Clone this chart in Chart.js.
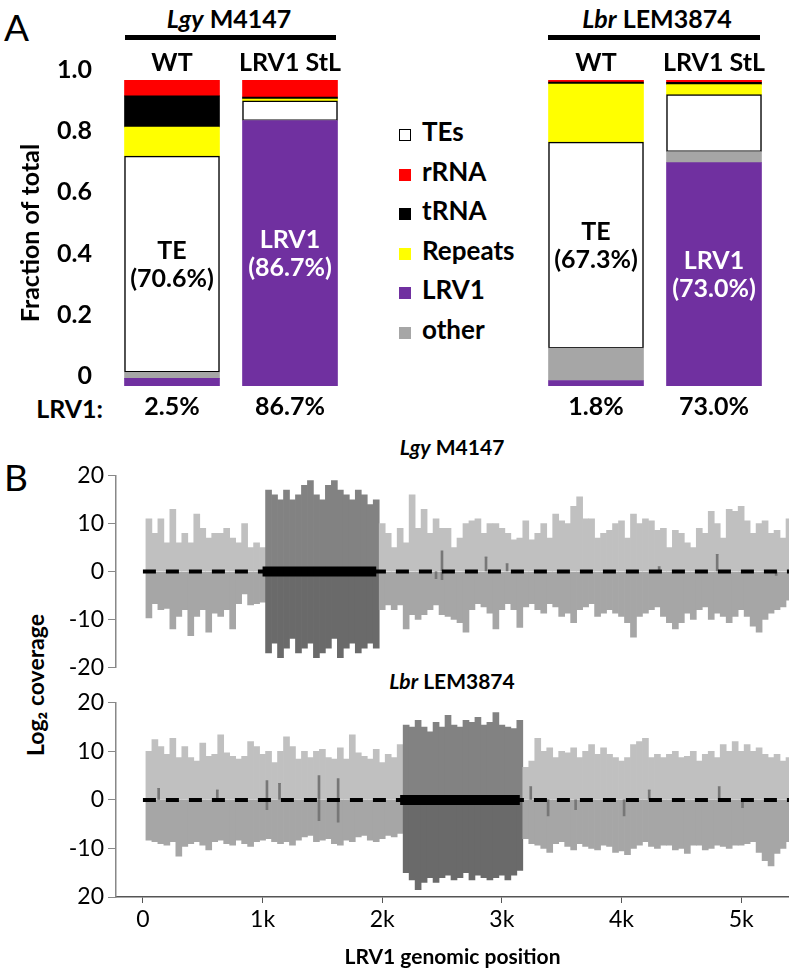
<!DOCTYPE html>
<html>
<head>
<meta charset="utf-8">
<script src="https://cdn.jsdelivr.net/npm/chart.js@4.4.1/dist/chart.umd.min.js"></script>
<style>
  body { margin: 0; background: #fff; font-family: Lato, sans-serif; }
  #page { position: relative; width: 793px; height: 972px; overflow: hidden; }
  .abs { position: absolute; white-space: nowrap; }
  canvas { position: absolute; }
  .panel { font-size: 37px; }
  .head { font-weight: bold; font-size: 25px; text-align: center; width: 300px; line-height: 30px; }
  .rule { height: 5px; background: #000; }
  .legend-row { height: 39.6px; font-weight: bold; font-size: 26px; line-height: 39.6px; }
  .legend-row .sw { display: inline-block; width: 12px; height: 12px; margin-right: 11px; box-sizing: border-box; }
  .btitle { font-weight: bold; font-size: 21px; text-align: center; width: 300px; line-height: 26px; }
</style>
</head>
<body>
<div id="page">
  <div class="abs panel" style="left:4px;top:4px;">A</div>
  <div class="abs panel" style="left:4px;top:454px;">B</div>

  <div class="abs head" style="left:79px;top:3px;"><i>Lgy</i> M4147</div>
  <div class="abs rule" style="left:125px;top:35px;width:211px;"></div>
  <div class="abs head" style="left:507px;top:3px;"><i>Lbr</i> LEM3874</div>
  <div class="abs rule" style="left:548px;top:35px;width:212px;"></div>

  <div class="abs" id="legend" style="left:399px;top:112px;"></div>
  <div class="abs" style="left:3px;top:393px;width:100px;text-align:right;font-weight:bold;font-size:25px;line-height:30px;">LRV1:</div>

  <canvas id="fracLgy" width="349" height="386" style="left:0;top:40px;"></canvas>
  <canvas id="fracLbr" width="373" height="386" style="left:420px;top:40px;"></canvas>

  <div class="abs btitle" style="left:302px;top:434px;"><i>Lgy</i> M4147</div>
  <div class="abs btitle" style="left:302px;top:668px;"><i>Lbr</i> LEM3874</div>
  <div class="abs" style="left:-115px;top:670px;width:300px;text-align:center;font-weight:bold;font-size:23px;line-height:30px;transform:rotate(-90deg);">Log₂ coverage</div>

  <canvas id="covLgy" width="789" height="227" style="left:0;top:458px;"></canvas>
  <canvas id="covLbr" width="789" height="287" style="left:0;top:685px;"></canvas>
</div>

<script>
// ---- Panel A: read fractions (bars: Lgy WT, Lgy LRV1 StL, Lbr WT, Lbr LRV1 StL)
const samples = ['WT', 'LRV1 StL'];
const fracLRV1    = [0.025, 0.867, 0.018, 0.730];
const fracOther   = [0.020, 0.000, 0.106, 0.036];
const fracTEs     = [0.706, 0.065, 0.673, 0.186];
const fracRepeats = [0.095, 0.006, 0.190, 0.033];
const fracTRNA    = [0.102, 0.006, 0.006, 0.007];
const fracRRNA    = [0.052, 0.056, 0.007, 0.008];
const fracTickLabels = ['0', '0.2', '0.4', '0.6', '0.8', '1.0'];
// which segment carries the big in-bar label
const barLabelSeries = ['TEs', 'LRV1', 'TEs', 'LRV1'];
const barLabelText = { TEs: 'TE', LRV1: 'LRV1' };

// ---- Panel B: log2 coverage per 50 bp bin (max above / min below zero)
const binSize = 50;
const genomeEnd = 5400;
const lgyUp = [11, 8, 11, 6, 13, 6, 8, 6, 12, 9, 7, 8, 8, 9, 7, 6, 10, 5, 6, 5,
  17, 16, 15, 17, 15, 16, 18, 19, 16, 15, 18, 19, 17, 16, 15, 17, 16, 14, 15,
  10, 8, 5, 9, 6, 16, 9, 13, 8, 11, 9,
  9, 5, 7, 10, 10.6, 11, 8, 10, 10, 9, 8, 6.6, 7, 10.6, 6.6, 8, 10, 7, 12, 10.6,
  10, 13.6, 15.6, 11, 11, 7, 8, 8.6, 10, 10.6, 7, 12, 10, 11, 10.6, 8.6, 9, 5, 8.6, 8,
  6, 5, 9, 8, 12.6, 10, 7, 13, 12.6, 13.6, 10.6, 8, 10, 10.6, 8, 8.6, 7, 11];
const lgyDown = [-9.7, -6.7, -8, -7.7, -12, -9.4, -8, -13.4, -9.4, -8, -12.7, -8.7, -9.4, -8, -12, -6.7, -4.7, -7, -6.7, -6.4,
  -17, -15, -18, -16, -14, -17, -16, -15, -18, -17, -16, -14, -18, -16, -15, -17, -16, -15, -16,
  -8, -7, -8, -7, -12, -9, -10, -9, -8, -7, -9,
  -9.4, -10, -10.7, -12.7, -8, -6.7, -7.4, -8.7, -12, -8, -6.7, -8, -11.7, -7.4, -6.7, -8, -8.7, -6.7, -7.4, -9.4,
  -8.7, -10.7, -8, -7.4, -6.7, -9.4, -8.7, -8, -8.7, -9.4, -10.7, -13.7, -9.4, -8.7, -8, -7.4, -9.4, -10.7, -12, -10.7,
  -8.7, -10, -8, -7.4, -10, -8.7, -9.4, -10.7, -9.4, -8, -9.4, -11.4, -12.7, -10, -8.7, -8, -7.4, -6];
const lbrUp = [10, 12.4, 11, 9.4, 12.7, 8.7, 11, 8.7, 8, 11.7, 9, 9.4, 13.4, 9.7, 9, 8.4, 9, 12, 11, 9.4,
  10, 7.7, 10, 13, 11, 8.4, 10, 8.7, 10, 10.4, 8.7, 8.4, 10.7, 8.4, 13.4, 9.7, 9, 8.4, 10.4, 7.7, 9.4, 8.7, 11.4,
  15.4, 15, 16.4, 15, 14, 16, 15, 17.4, 15.4, 15, 16.4, 16, 17, 15.4, 16, 18, 15.4, 15, 14.7, 16.4,
  6.7, 8, 12.7, 10, 10.7, 8.7, 10, 9.7, 10.7, 8.7, 10, 11.4, 9.4, 10.7, 9.4, 8.7, 8, 8.7, 11.4, 12,
  12.7, 8.7, 9.4, 8.7, 9.4, 10, 8.7, 9, 10, 8, 9.4, 10, 8.7, 11.4, 10, 12, 10, 11.4, 10, 10.7, 9.4, 8.7, 9.4, 8, 8.7];
const lbrDown = [-8.3, -8.6, -9, -9.3, -8.6, -11.6, -9.6, -9, -8.6, -9.3, -10.3, -8.6, -8.3, -9, -9.3, -8.3, -9, -9.6, -8.6, -8.3,
  -8, -8.6, -9, -8.6, -9.3, -8.3, -7.6, -7.3, -8.6, -8.3, -8, -9, -9.3, -8.3, -8.6, -7.6, -7.3, -8.3, -8.6, -8, -7.3, -7.6, -6.9,
  -15, -16.5, -18.5, -17, -16, -17, -16, -15.5, -16.5, -16, -15, -16.5, -15.5, -16, -16.5, -16, -15.5, -16.5, -15.5, -14.5,
  -8, -9, -9.3, -10, -10.8, -9, -8.6, -9.6, -10.3, -9, -9.6, -10, -10.3, -9.3, -9.6, -10.8, -10.5, -11.3, -10, -9.3,
  -8.6, -9.6, -10, -9.3, -9.3, -10.3, -10, -11, -9.3, -9.3, -10.3, -10, -9.3, -9.6, -10, -9.3, -9.3, -9, -8.6, -10.8,
  -12.5, -13.6, -11, -10, -8.6];
// narrow darker spikes close to zero (position, up, down)
const lgySpikePos  = [2458, 2508, 2876, 3052, 4323, 4808, 5301];
const lgySpikeUp   = [0, 4.3, 3, 1.6, 1, 3.6, 0];
const lgySpikeDown = [-1.5, -1.7, 0, 0, 0, 0, -0.8];
const lbrSpikePos  = [140, 630, 1045, 1150, 1480, 1640, 3250, 3395, 3625, 4030, 4240, 4825, 5020];
const lbrSpikeUp   = [2.4, 2, 4, 3.4, 5, 4.4, 2.7, 0, 0, 0, 2, 2.7, 0];
const lbrSpikeDown = [0, 0, -2, 0, -4.3, -4.6, 0, -3.3, -2, -3.3, 0, 0, -1.6];
// stretch covered by the dark (high coverage) block
const lgyRegion = [1000, 1950];
const lbrRegion = [2150, 3150];
const covTickValues = [-20, -10, 0, 10, 20];
const lgyTickLabels = ['-20', '-10', '0', '10', '20'];
const lbrTickLabels = ['20', '-10', '0', '10', '20'];
const posTickValues = [0, 1000, 2000, 3000, 4000, 5000];
const posTickLabels = ['0', '1k', '2k', '3k', '4k', '5k'];

Chart.defaults.font.family = 'Lato';
Chart.defaults.color = '#000';

const series = [
  { name: 'LRV1',    data: fracLRV1,    color: '#7030a0' },
  { name: 'other',   data: fracOther,   color: '#a6a6a6' },
  { name: 'TEs',     data: fracTEs,     color: '#ffffff', border: true },
  { name: 'Repeats', data: fracRepeats, color: '#ffff00' },
  { name: 'tRNA',    data: fracTRNA,    color: '#000000' },
  { name: 'rRNA',    data: fracRRNA,    color: '#ff0000' },
];
const legendOrder = ['TEs', 'rRNA', 'tRNA', 'Repeats', 'LRV1', 'other'];

// legend
const legendEl = document.getElementById('legend');
legendOrder.forEach(n => {
  const s = series.find(d => d.name === n);
  const row = document.createElement('div');
  row.className = 'legend-row';
  const sw = document.createElement('span');
  sw.className = 'sw';
  sw.style.background = s.color;
  if (s.border) sw.style.border = '1.5px solid #000';
  row.appendChild(sw);
  row.appendChild(document.createTextNode(n));
  legendEl.appendChild(row);
});

const bold25 = { size: 25, weight: 'bold' };

const barText = {
  id: 'barText',
  afterDatasetsDraw(chart) {
    const off = chart.options.plugins.barText.offset;
    const ctx = chart.ctx;
    ctx.save();
    ctx.font = 'bold 25px Lato';
    ctx.textAlign = 'center';
    ctx.textBaseline = 'middle';
    chart.data.labels.forEach((_, i) => {
      const name = barLabelSeries[off + i];
      const dsIndex = chart.data.datasets.findIndex(d => d.label === name);
      const el = chart.getDatasetMeta(dsIndex).data[i];
      const mid = (el.y + el.base) / 2;
      const v = chart.data.datasets[dsIndex].data[i];
      ctx.fillStyle = name === 'LRV1' ? '#fff' : '#000';
      ctx.fillText(barLabelText[name], el.x, mid - 13);
      ctx.fillText('(' + (v * 100).toFixed(1) + '%)', el.x, mid + 15);
    });
    ctx.restore();
  }
};

function fractionChart(id, off, showLabels, padRight) {
  const pct = fracLRV1.slice(off, off + 2).map(v => (v * 100).toFixed(1) + '%');
  return new Chart(document.getElementById(id), {
    type: 'bar',
    data: {
      labels: samples,
      datasets: series.map(s => ({
        label: s.name,
        data: s.data.slice(off, off + 2),
        backgroundColor: s.color,
        borderColor: '#000',
        borderWidth: s.border ? 1.5 : 0,
        borderSkipped: false,
        barThickness: 95,
      })),
    },
    options: {
      responsive: false,
      animation: false,
      layout: { padding: { left: 0, right: padRight, top: 0, bottom: 0 } },
      plugins: { legend: { display: false }, tooltip: { enabled: false }, barText: { offset: off } },
      scales: {
        x: {
          position: 'top', stacked: true,
          grid: { display: false, drawTicks: false }, border: { display: false },
          ticks: { font: bold25, padding: 2, maxRotation: 0, minRotation: 0, autoSkip: false },
          afterFit(s) { s.height = 40; },
        },
        x2: {
          type: 'category', labels: pct, position: 'bottom',
          grid: { display: false, drawTicks: false }, border: { display: false },
          ticks: { font: bold25, padding: 6, maxRotation: 0, minRotation: 0, autoSkip: false },
          afterFit(s) { s.height = 40; },
        },
        y: {
          stacked: true, min: 0, max: 1,
          grid: { display: false }, border: { display: false },
          ticks: { display: showLabels, stepSize: 0.2, font: bold25, padding: 13, labelOffset: -10,
                   callback: (v, i) => fracTickLabels[i] },
          title: { display: showLabels, text: 'Fraction of total', font: bold25, padding: { top: 16, bottom: 0 } },
          afterFit(s) { s.width = showLabels ? 113 : 117; },
        },
      },
    },
    plugins: [barText],
  });
}
fractionChart('fracLgy', 0, true, 0);
fractionChart('fracLbr', 2, false, 20);

// ---- Panel B
const binCenters = lgyUp.map((_, i) => i * binSize + binSize / 2);
const shade = (region, light, dark) =>
  binCenters.map(x => (x >= region[0] && x < region[1]) ? dark : light);

function coverageChart(id, up, down, spikePos, spikeUp, spikeDown, region, tickLabels, showX, padTop, padBottom) {
  const covBar = { type: 'bar', barThickness: 6, order: 3 };
  const spikeBar = { type: 'bar', barThickness: 2, backgroundColor: '#777777', order: 2 };
  return new Chart(document.getElementById(id), {
    data: {
      datasets: [
        { type: 'line', data: [{ x: region[0], y: 0 }, { x: region[1], y: 0 }],
          borderColor: '#000', borderWidth: 10, borderCapStyle: 'butt', pointRadius: 0, stack: 'z1', order: 0 },
        { type: 'line', data: [{ x: 0, y: 0 }, { x: genomeEnd, y: 0 }],
          borderColor: '#000', borderWidth: 4, borderDash: [13, 10], pointRadius: 0, stack: 'z2', order: 1 },
        { ...covBar, data: up.map((v, i) => ({ x: binCenters[i], y: v })),
          backgroundColor: shade(region, '#c0c0c0', '#828282') },
        { ...covBar, data: down.map((v, i) => ({ x: binCenters[i], y: v })),
          backgroundColor: shade(region, '#a6a6a6', '#6a6a6a') },
        { ...spikeBar, stack: 's', data: spikePos.map((x, i) => ({ x, y: spikeUp[i] })) },
        { ...spikeBar, stack: 's', data: spikePos.map((x, i) => ({ x, y: spikeDown[i] })) },
      ],
    },
    options: {
      responsive: false,
      animation: false,
      layout: { padding: { top: padTop, bottom: padBottom, left: 0, right: 0 } },
      plugins: { legend: { display: false }, tooltip: { enabled: false } },
      scales: {
        x: {
          type: 'linear', display: showX, offset: false, stacked: true, min: -225, max: genomeEnd,
          afterBuildTicks(s) { s.ticks = posTickValues.map(v => ({ value: v })); },
          grid: { offset: false, drawOnChartArea: false, drawTicks: true, tickLength: 6, color: '#555' },
          border: { display: true, color: '#555', width: 1.5 },
          ticks: { font: { size: 23 }, padding: 3, maxRotation: 0, callback: (v, i) => posTickLabels[i] },
          title: { display: showX, text: 'LRV1 genomic position', font: { size: 21, weight: 'bold' }, padding: { top: 0, bottom: 2 } },
          afterFit(s) { if (showX) s.height = 75; },
        },
        y: {
          stacked: true, min: -20, max: 20,
          afterBuildTicks(s) { s.ticks = covTickValues.map(v => ({ value: v })); },
          grid: { drawOnChartArea: false, drawTicks: true, tickLength: 8, color: '#888' },
          border: { display: true, color: '#888', width: 1.5 },
          ticks: { font: { size: 23 }, padding: 4, callback: (v, i) => tickLabels[i] },
          afterFit(s) { s.width = 116; },
        },
      },
    },
  });
}
coverageChart('covLgy', lgyUp, lgyDown, lgySpikePos, lgySpikeUp, lgySpikeDown, lgyRegion, lgyTickLabels, false, 15, 12);
coverageChart('covLbr', lbrUp, lbrDown, lbrSpikePos, lbrSpikeUp, lbrSpikeDown, lbrRegion, lbrTickLabels, true, 12, 0);
</script>
</body>
</html>
